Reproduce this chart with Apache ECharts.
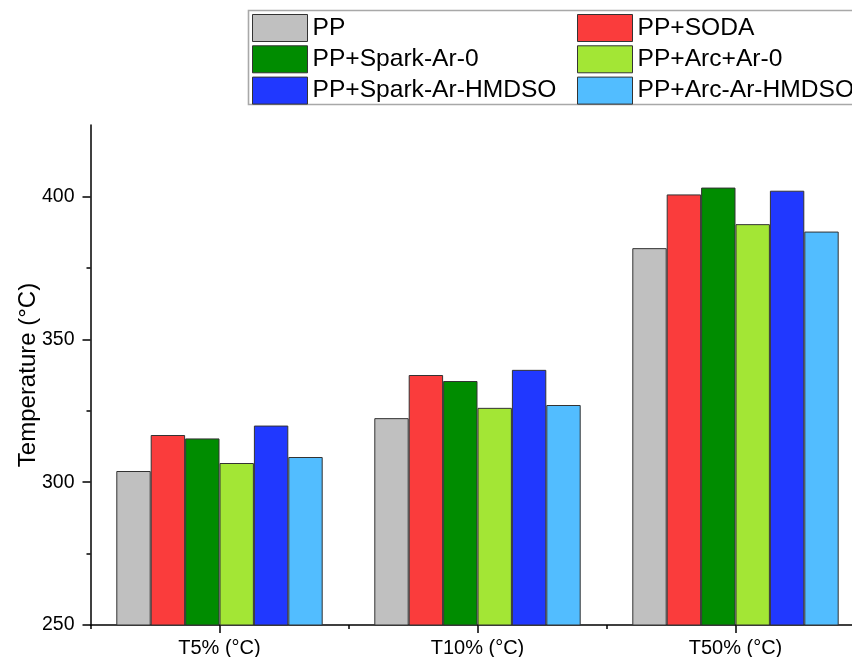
<!DOCTYPE html>
<html>
<head>
<meta charset="utf-8">
<script src="https://cdn.jsdelivr.net/npm/echarts@6/dist/echarts.min.js"></script>
<style>
  html, body { margin: 0; padding: 0; background: #fff; }
  #chart { width: 852px; height: 657px; }
</style>
</head>
<body>
<div id="chart"></div>
<script>
// Decomposition temperatures at 5 %, 10 % and 50 % mass loss
const categories = ['T5% (°C)', 'T10% (°C)', 'T50% (°C)'];
const seriesNames = ['PP', 'PP+SODA', 'PP+Spark-Ar-0', 'PP+Arc+Ar-0', 'PP+Spark-Ar-HMDSO', 'PP+Arc-Ar-HMDSO'];
const pp             = [303.9, 322.4, 381.9];
const ppSoda         = [316.5, 337.5, 400.7];
const ppSparkAr0     = [315.3, 335.4, 403.1];
const ppArcAr0       = [306.7, 326.0, 390.3];
const ppSparkArHmdso = [319.8, 339.3, 402.0];
const ppArcArHmdso   = [308.8, 327.0, 387.7];
const majorTicks = [250, 300, 350, 400];
const minorTicks = [275, 325, 375];

const seriesValues = [pp, ppSoda, ppSparkAr0, ppArcAr0, ppSparkArHmdso, ppArcArHmdso];
const colors = ['#C0C0C0', '#FA3C3C', '#008C00', '#A3E635', '#2038FF', '#52BDFF'];

const chart = echarts.init(document.getElementById('chart'), null, { renderer: 'canvas' });
const font = 'Liberation Sans, Arial, sans-serif';

const legendCommon = {
  orient: 'vertical',
  top: 14,
  itemWidth: 55,
  itemHeight: 27,
  itemGap: 3.3,
  padding: 0,
  icon: 'rect',
  itemStyle: { borderColor: '#333', borderWidth: 1 },
  textStyle: { fontFamily: font, fontSize: 24.6, color: '#000', lineHeight: 27 }
};

chart.setOption({
  animation: false,
  backgroundColor: '#fff',
  textStyle: { fontFamily: font },
  graphic: [{
    type: 'rect',
    shape: { x: 248.5, y: 10.5, width: 700, height: 94 },
    style: { fill: 'none', stroke: '#a8a8a8', lineWidth: 1.6 },
    z: 1
  }],
  legend: [
    Object.assign({}, legendCommon, { left: 252, data: [seriesNames[0], seriesNames[2], seriesNames[4]] }),
    Object.assign({}, legendCommon, { left: 577, data: [seriesNames[1], seriesNames[3], seriesNames[5]] })
  ],
  grid: { left: 90.5, top: 125, width: 774, bottom: 32, containLabel: false, outerBoundsMode: 'none' },
  xAxis: [{
    type: 'category',
    data: categories,
    boundaryGap: true,
    axisLine: { show: true, lineStyle: { color: '#000', width: 1.5 } },
    axisTick: { show: true, alignWithLabel: true, inside: false, length: 8, lineStyle: { color: '#000', width: 1.5 } },
    axisLabel: { fontFamily: font, fontSize: 20, color: '#000', margin: 13 },
    splitLine: { show: false }
  }, {
    type: 'category',
    data: categories,
    position: 'bottom',
    boundaryGap: true,
    axisLine: { show: false },
    axisTick: { show: true, length: 4, lineStyle: { color: '#000', width: 1.5 } },
    axisLabel: { show: false },
    splitLine: { show: false }
  }],
  yAxis: [{
    type: 'value',
    min: 250,
    max: 425,
    interval: 50,
    name: 'Temperature (°C)',
    nameLocation: 'middle',
    nameGap: 50,
    nameMoveOverlap: false,
    nameTextStyle: { fontFamily: font, fontSize: 24, color: '#000' },
    axisLine: { show: true, lineStyle: { color: '#000', width: 1.5 } },
    axisTick: { show: true, length: 8, customValues: majorTicks, lineStyle: { color: '#000', width: 1.5 } },
    axisLabel: { fontFamily: font, fontSize: 19.5, color: '#000', margin: 16, customValues: majorTicks },
    splitLine: { show: false }
  }, {
    type: 'value',
    min: 250,
    max: 425,
    position: 'left',
    axisLine: { show: false },
    axisTick: { show: true, length: 4, customValues: minorTicks, lineStyle: { color: '#000', width: 1.5 } },
    axisLabel: { show: false },
    splitLine: { show: false }
  }],
  series: seriesNames.map((name, i) => ({
    name: name,
    type: 'bar',
    xAxisIndex: 0,
    yAxisIndex: 0,
    data: seriesValues[i],
    barGap: '0%',
    barCategoryGap: '20%',
    itemStyle: { color: colors[i], borderColor: '#333', borderWidth: 1 }
  }))
});
</script>
</body>
</html>
